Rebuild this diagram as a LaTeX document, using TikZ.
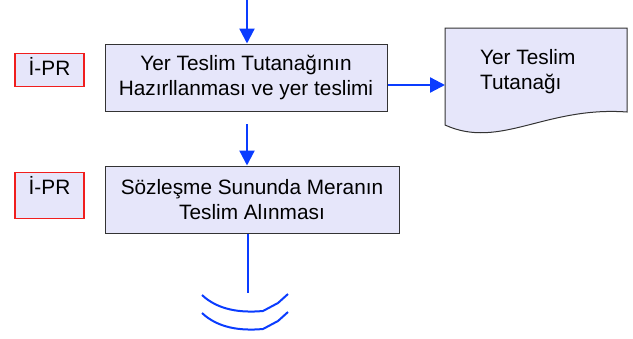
\documentclass[tikz,border=0pt]{standalone}
\usepackage{fontspec}
\setmainfont{Liberation Sans}
\usetikzlibrary{arrows.meta}
\definecolor{boxfill}{HTML}{E6E6FA}
\definecolor{flowblue}{HTML}{0A3CFF}
\definecolor{redline}{HTML}{F01E1E}
\begin{document}
\begin{tikzpicture}[x=1pt,y=-1pt,
  every node/.style={font=\fontsize{20.8}{25}\selectfont},
  procbox/.style={draw=black!80, line width=1pt, fill=boxfill, minimum height=67pt, align=center, inner sep=0pt},
  refbox/.style={draw=redline, line width=1.4pt, fill=boxfill, minimum width=69pt, anchor=north, inner xsep=0pt, inner ysep=0pt, text height=22pt},
  flow/.style={draw=flowblue, line width=2.3pt, -{Triangle[length=15pt,width=15pt]}},
  flowline/.style={draw=flowblue, line width=2pt}]
\useasboundingbox (0,0) rectangle (633,338);
% nodes
\node[procbox, minimum width=282pt] (b1) at (246,77.5) {Yer Teslim Tutanağının\\Hazırllanması ve yer teslimi};
\node[procbox, minimum width=294pt] (b2) at (252,199.5) {Sözleşme Sununda Meranın\\Teslim Alınması};
\node[refbox, text depth=11pt] (r1) at (49.5,53) {İ-PR};
\node[refbox, text depth=24pt] (r2) at (49.5,172) {İ-PR};
% document shape
\coordinate (dTL) at (445,28);
\coordinate (dTR) at (627,28);
\coordinate (dBR) at (627,112);
\coordinate (dBL) at (445,125);
\draw[black!80, line width=1pt, fill=boxfill] (dTL) -- (dTR) -- (dBR) .. controls (545,106) and (500,150) .. (dBL) -- cycle;
\node[anchor=west, align=left, inner sep=0pt] (doc) at (480,72) {Yer Teslim\\Tutanağı};
\coordinate (dW) at (445,85);
% connectors
\coordinate (top) at (247,0);
\draw[flow] (top) -- (top |- b1.north);
\coordinate (a2s) at (247,124);
\draw[flow] (a2s) -- (a2s |- b2.north);
\draw[flow] ([yshift=-7.5pt]b1.east) -- (dW);
\coordinate (endln) at (247.5,293);
\draw[flowline] (b2.south -| endln) -- (endln);
% off-page connector arcs
\coordinate (a1l) at (202,295);
\coordinate (a1r) at (288,294);
\coordinate (a2l) at (202,313);
\coordinate (a2r) at (288,312);
\draw[flowline] (a1l) .. controls (218,310) and (240,313) .. (263,311) -- (278,303) -- (a1r);
\draw[flowline] (a2l) .. controls (218,328) and (240,331) .. (263,329) -- (278,321) -- (a2r);
\end{tikzpicture}
\end{document}
